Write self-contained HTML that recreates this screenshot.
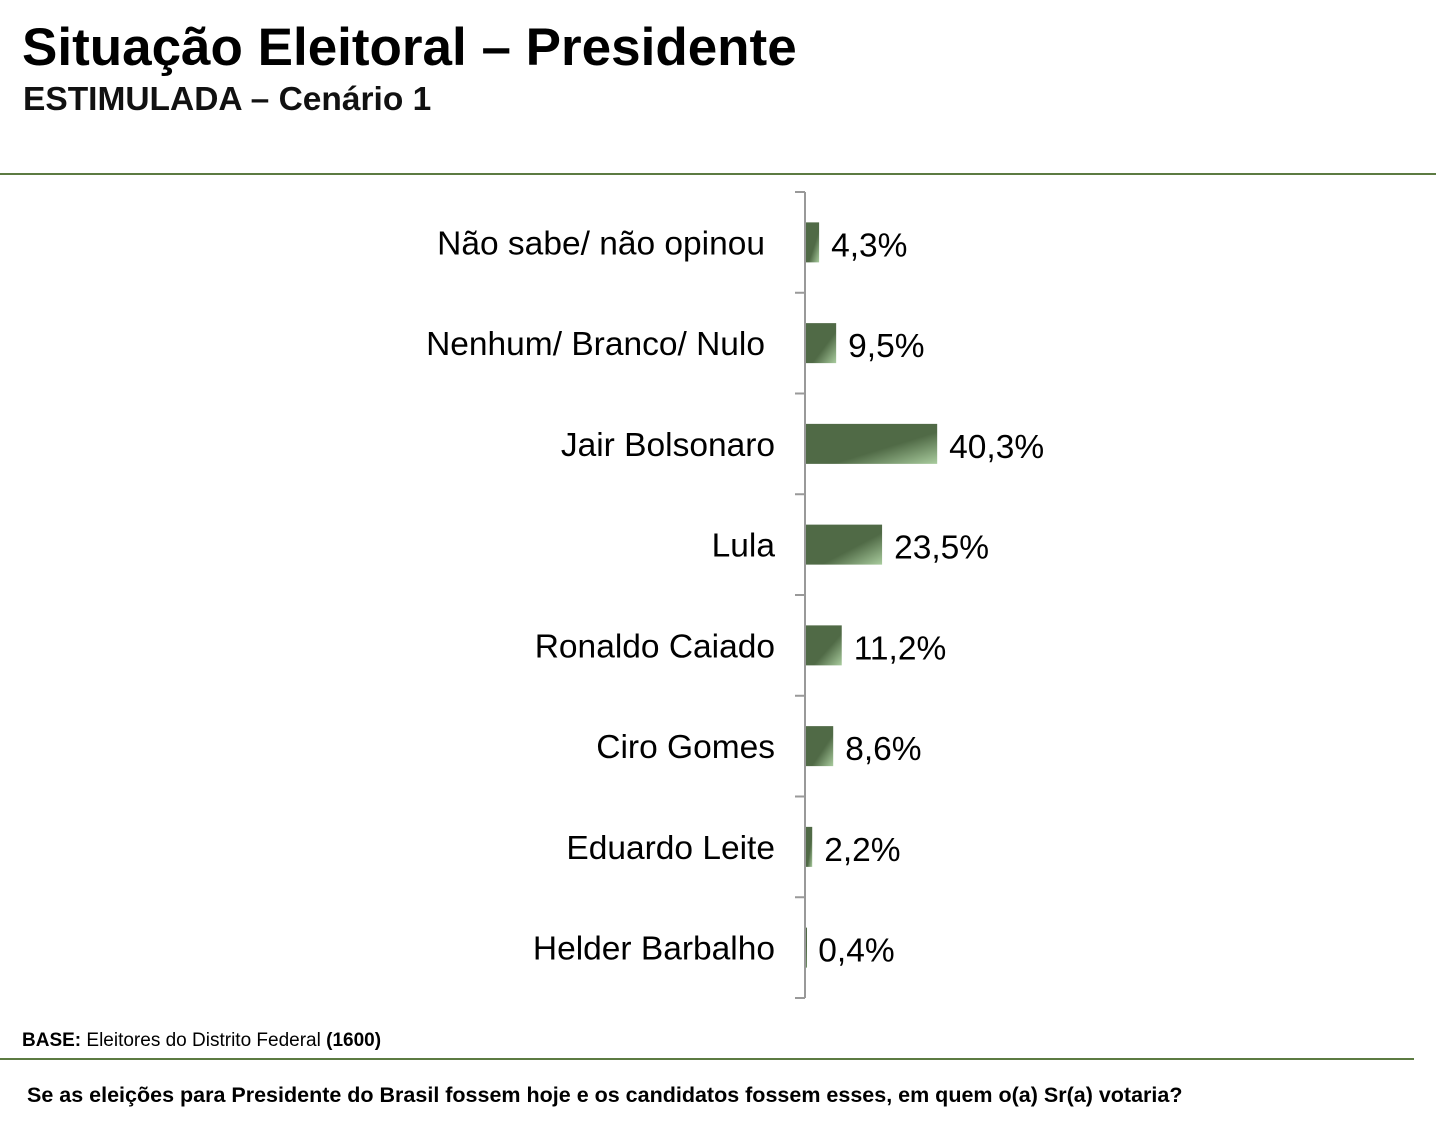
<!DOCTYPE html>
<html><head><meta charset="utf-8"><style>
body{margin:0;width:1436px;height:1138px;background:#fff;font-family:"Liberation Sans",sans-serif;position:relative;overflow:hidden}
.a{position:absolute;white-space:nowrap}
</style></head><body>
<div class="a" style="left:22px;top:17px;font-size:53px;font-weight:bold;color:#000">Situação Eleitoral – Presidente</div>
<div class="a" style="left:23px;top:81px;font-size:33.5px;font-weight:bold;color:#111">ESTIMULADA – Cenário 1</div>
<div class="a" style="left:0;top:173px;width:1436px;height:2px;background:#5c7b42"></div>
<svg class="a" style="left:0;top:0" width="1436" height="1138">
<defs><linearGradient id="g" x1="0" y1="0" x2="1" y2="1"><stop offset="0.6" stop-color="#506a46"/><stop offset="1" stop-color="#a9cc9e"/></linearGradient></defs>
<g id="plot"></g></svg>
<div class="a" style="left:22px;top:1030px;font-size:19px;color:#000"><b>BASE:</b> Eleitores do Distrito Federal <b>(1600)</b></div>
<div class="a" style="left:0;top:1058px;width:1414px;height:2px;background:#5c7b42"></div>
<div class="a" style="left:27px;top:1083px;font-size:21.5px;font-weight:bold;color:#000">Se as eleições para Presidente do Brasil fossem hoje e os candidatos fossem esses, em quem o(a) Sr(a) votaria?</div>
<script>
const categories=["Não sabe/ não opinou","Nenhum/ Branco/ Nulo","Jair Bolsonaro","Lula","Ronaldo Caiado","Ciro Gomes","Eduardo Leite","Helder Barbalho"];
const values=[4.3,9.5,40.3,23.5,11.2,8.6,2.2,0.4];
const valueLabels=["4,3%","9,5%","40,3%","23,5%","11,2%","8,6%","2,2%","0,4%"];
const NS="http://www.w3.org/2000/svg",g=document.getElementById('plot');
const x0=805,pxPer=3.28,yTop=192,yBot=998,band=(yBot-yTop)/categories.length;
const xs=v=>x0+v*pxPer, yc=i=>yTop+band*(i+0.5);
function mk(t,a){const e=document.createElementNS(NS,t);for(const k in a)e.setAttribute(k,a[k]);g.appendChild(e);return e;}
const ax=mk('line',{x1:x0,y1:yTop,x2:x0,y2:yBot,stroke:'#999','stroke-width':2});


for(let i=0;i<=categories.length;i++){const t=mk('line',{x1:x0-10,x2:x0,y1:yTop+band*i,y2:yTop+band*i,stroke:'#999','stroke-width':2});

}
categories.forEach((c,i)=>{
const r=mk('rect',{x:x0+1,y:yc(i)-20,width:Math.max(xs(values[i])-x0-1,1),height:40,fill:'url(#g)'});


const l=mk('text',{x:i<2?765:775,y:yc(i)+12,'text-anchor':'end','font-size':33.5,fill:'#000'});l.textContent=c;


const v=mk('text',{x:xs(values[i])+12,y:yc(i)+14,'font-size':33.5,fill:'#000'});v.textContent=valueLabels[i];


});
</script>
</body></html>
